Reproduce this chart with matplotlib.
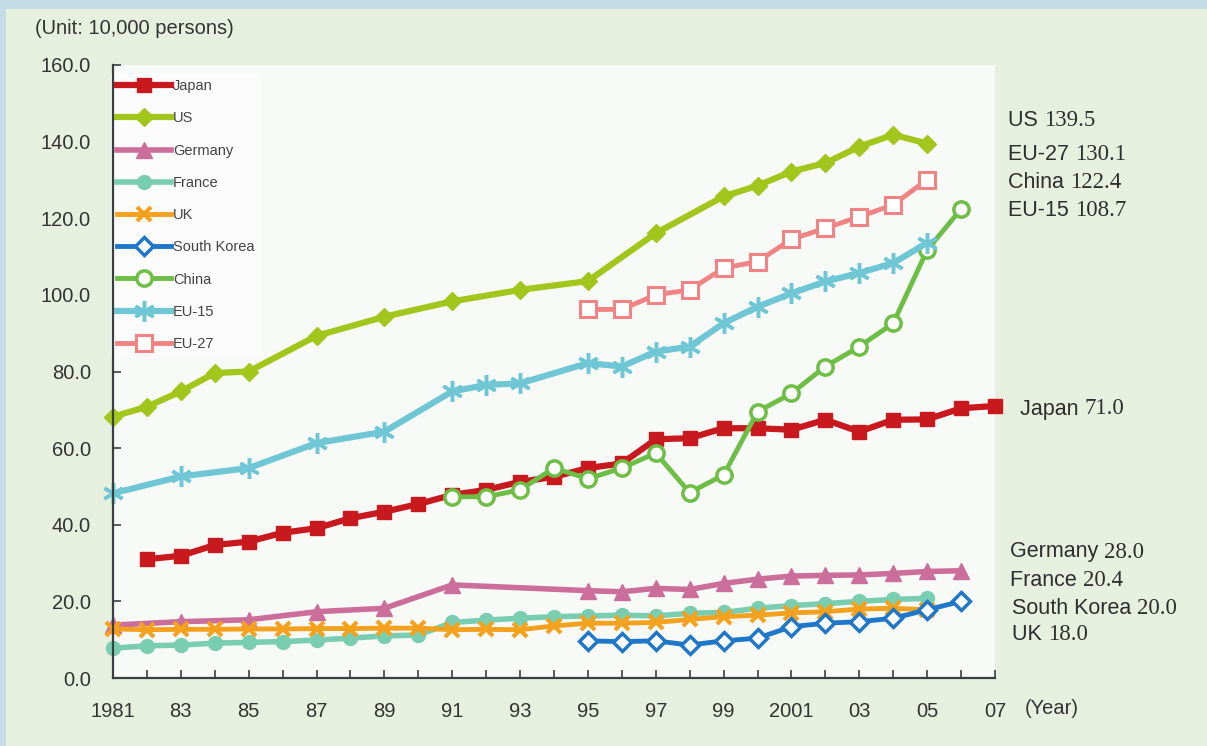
import matplotlib
matplotlib.use("Agg")
import matplotlib.pyplot as plt
from matplotlib.patches import Rectangle
from matplotlib.ticker import FixedLocator, MultipleLocator

# ---------------- data ----------------
years_japan = list(range(1982, 2008))
japan = [31.0, 31.9, 34.7, 35.6, 37.9, 39.1, 41.7, 43.4, 45.4, 47.8, 49.1, 51.2, 52.5,
         54.8, 56.0, 62.3, 62.6, 65.2, 65.2, 64.8, 67.4, 64.3, 67.4, 67.5, 70.4, 71.0]

years_us = [1981, 1982, 1983, 1984, 1985, 1987, 1989, 1991, 1993, 1995, 1997, 1999,
            2000, 2001, 2002, 2003, 2004, 2005]
us = [68.2, 70.8, 74.8, 79.6, 80.0, 89.3, 94.3, 98.3, 101.3, 103.6, 116.1, 125.7,
      128.5, 132.2, 134.4, 138.7, 141.8, 139.5]

years_germany = [1981, 1983, 1985, 1987, 1989, 1991] + list(range(1995, 2007))
germany = [13.8, 14.7, 15.2, 17.3, 18.2, 24.3, 22.8, 22.5, 23.4, 23.1, 24.7, 25.8,
           26.6, 26.8, 26.9, 27.3, 27.8, 28.0]

years_france = list(range(1981, 2006))
france = [7.8, 8.4, 8.6, 9.1, 9.3, 9.5, 9.9, 10.4, 11.0, 11.2, 14.5, 15.1, 15.6, 16.0,
          16.2, 16.4, 16.2, 16.9, 17.1, 18.2, 18.9, 19.4, 20.0, 20.5, 20.8]

years_uk = list(range(1981, 2006))
uk = [12.8, 12.6, 12.7, 12.7, 12.8, 12.8, 12.9, 12.9, 13.0, 13.0, 12.6, 12.7, 12.6,
      13.6, 14.3, 14.3, 14.5, 15.3, 16.0, 16.4, 17.0, 17.3, 18.0, 18.2, 17.8]

years_korea = list(range(1995, 2007))
korea = [9.7, 9.5, 9.7, 8.6, 9.7, 10.4, 13.4, 14.3, 14.7, 15.6, 17.8, 20.0]

years_china = list(range(1991, 2007))
china = [47.3, 47.3, 49.1, 54.8, 52.0, 54.8, 58.7, 48.4, 53.0, 69.5, 74.3, 81.3,
         86.5, 92.6, 111.7, 122.4]

years_eu15 = [1981, 1983, 1985, 1987, 1989, 1991, 1992, 1993, 1995, 1996, 1997, 1998,
              1999, 2000, 2001, 2002, 2003, 2004, 2005]
eu15 = [48.2, 52.6, 54.8, 61.3, 64.3, 74.8, 76.5, 76.9, 82.2, 81.3, 85.2, 86.5, 92.6,
        96.9, 100.4, 103.5, 105.7, 108.3, 113.6]

years_eu27 = list(range(1995, 2006))
eu27 = [96.2, 96.2, 100.0, 101.3, 107.0, 108.7, 114.5, 117.4, 120.4, 123.5, 130.1]

x_tick_years = list(range(1981, 2008, 2))
x_tick_labels = ["1981", "83", "85", "87", "89", "91", "93", "95", "97", "99",
                 "2001", "03", "05", "07"]
y_ticks = [0, 20, 40, 60, 80, 100, 120, 140, 160]

label_names = ["US", "EU-27", "China", "EU-15", "Japan", "Germany", "France",
               "South Korea", "UK"]
label_values = ["139.5", "130.1", "122.4", "108.7", "71.0", "28.0", "20.4", "20.0", "18.0"]

# ---------------- figure ----------------
W, H = 1207, 746
fig = plt.figure(figsize=(W / 100, H / 100), dpi=100)
fig.patch.set_facecolor("#E7EFDF")

# light blue frame strips
fig.patches.append(Rectangle((0, 1 - 9 / H), 1, 9 / H, transform=fig.transFigure,
                             facecolor="#C4DCE6", edgecolor="none", zorder=0))
fig.patches.append(Rectangle((0, 0), 6 / W, 1, transform=fig.transFigure,
                             facecolor="#C4DCE6", edgecolor="none", zorder=0))

ax_l, ax_r, ax_t, ax_b = 113, 995, 65, 678
ax = fig.add_axes([ax_l / W, 1 - ax_b / H, (ax_r - ax_l) / W, (ax_b - ax_t) / H])
ax.set_facecolor("#F8FAF8")

sans = ["Liberation Sans", "DejaVu Sans"]
serif = ["Liberation Serif", "DejaVu Serif"]

series = [
    ("Japan", years_japan, japan, dict(color="#C8191F", lw=4.5, marker="s", ms=10,
                                       mfc="#C8191F", mec="#C8191F", mew=1)),
    ("US", years_us, us, dict(color="#A2C61C", lw=4.5, marker="D", ms=9,
                               mfc="#A2C61C", mec="#A2C61C", mew=1)),
    ("Germany", years_germany, germany, dict(color="#CC6E9C", lw=4, marker="^", ms=11,
                                              mfc="#CC6E9C", mec="#CC6E9C", mew=1)),
    ("France", years_france, france, dict(color="#79CDB0", lw=4, marker="o", ms=10,
                                           mfc="#79CDB0", mec="#79CDB0", mew=1)),
    ("UK", years_uk, uk, dict(color="#F4A11E", lw=3.5, marker="x", ms=10,
                               mfc="#F4A11E", mec="#F4A11E", mew=3)),
    ("South Korea", years_korea, korea, dict(color="#1F77C9", lw=3.5, marker="D", ms=9,
                                              mfc="white", mec="#1F77C9", mew=2.5)),
    ("China", years_china, china, dict(color="#6DBE45", lw=3.5, marker="o", ms=11,
                                        mfc="white", mec="#6DBE45", mew=2.5)),
    ("EU-15", years_eu15, eu15, dict(color="#6FC7D5", lw=4.5, marker=(6, 2, 0), ms=15,
                                      mfc="#6FC7D5", mec="#6FC7D5", mew=2.5)),
    ("EU-27", years_eu27, eu27, dict(color="#F08383", lw=3.5, marker="s", ms=11,
                                      mfc="white", mec="#F08383", mew=2.2)),
]

for name, xs, ys, st in series:
    ax.plot(xs, ys, label=name, clip_on=False, **st)

ax.set_xlim(1981, 2007)
ax.set_ylim(0, 160)
ax.xaxis.set_major_locator(FixedLocator(x_tick_years))
ax.set_xticklabels(x_tick_labels)
ax.xaxis.set_minor_locator(MultipleLocator(1))
ax.set_yticks(y_ticks)
ax.set_yticklabels([f"{v:.1f}" for v in y_ticks])

for sp in ["top", "right"]:
    ax.spines[sp].set_visible(False)
for sp in ["left", "bottom"]:
    ax.spines[sp].set_color("#3A3F44")
    ax.spines[sp].set_linewidth(1.6)
    ax.spines[sp].set_zorder(6)

ax.tick_params(axis="both", which="both", direction="in", color="#3A3F44", width=1.2,
               labelcolor="#333333", labelsize=14.5)
ax.tick_params(axis="x", which="major", length=6, pad=17)
ax.tick_params(axis="x", which="minor", length=6)
ax.tick_params(axis="y", which="major", length=6, pad=16)
for lbl in ax.get_xticklabels() + ax.get_yticklabels():
    lbl.set_fontfamily(sans)

leg = ax.legend(loc="upper left", bbox_to_anchor=(-0.004, 0.99), frameon=True,
                facecolor="#FBFCFB", edgecolor="none", framealpha=1.0,
                handlelength=3.7, handletextpad=0.1, labelspacing=1.25,
                borderpad=0.45, borderaxespad=0.1, prop={"family": sans, "size": 10.5})
leg.set_zorder(5)
for t in leg.get_texts():
    t.set_color("#444444")

fig.text(35 / W, 1 - 28 / H, "(Unit: 10,000 persons)", family=sans, size=14.5,
         color="#333333", va="center", ha="left")
fig.text(1025 / W, 1 - 709 / H, "(Year)", family=sans, size=14.5,
         color="#333333", va="center", ha="left")

label_x = [1008, 1008, 1008, 1008, 1020, 1010, 1010, 1012, 1012]
label_y = [121, 155, 182, 210, 409, 552, 580, 608, 635]

fig.canvas.draw()
renderer = fig.canvas.get_renderer()
for nm, val, px, py in zip(label_names, label_values, label_x, label_y):
    t1 = fig.text(px / W, 1 - py / H, nm + " ", family=sans, size=15.5,
                  color="#2E2E2E", va="center", ha="left")
    bb = t1.get_window_extent(renderer=renderer)
    fig.text(bb.x1 / W, 1 - py / H, val, family=serif, size=16.5,
             color="#2E2E2E", va="center", ha="left")

fig.savefig("out.png", dpi=100, facecolor=fig.get_facecolor())
